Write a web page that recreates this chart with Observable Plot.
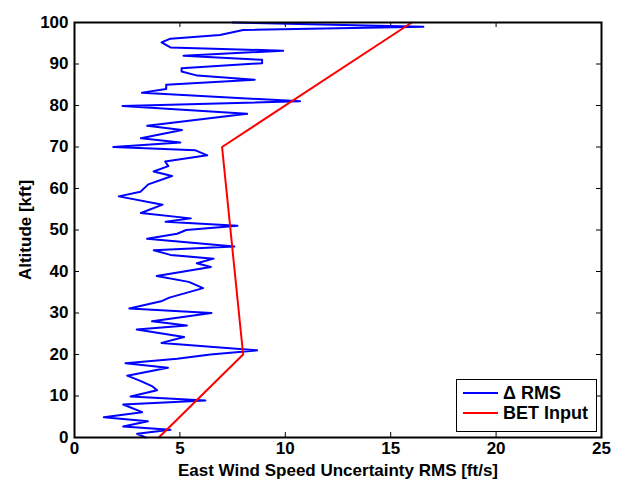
<!DOCTYPE html>
<html>
<head>
<meta charset="utf-8">
<script src="https://cdn.jsdelivr.net/npm/d3@7"></script>
<script src="https://cdn.jsdelivr.net/npm/@observablehq/plot@0.6"></script>
<style>
  html, body { margin: 0; padding: 0; background: #fff; }
  #wrap { position: relative; width: 627px; height: 488px; font-family: "Liberation Sans", Arial, sans-serif; }
  #chart svg text { font-size: 17px !important; font-weight: bold; fill: #000; }
  #legend { position: absolute; left: 456px; top: 379px; width: 141px; height: 53px; border: 1px solid #000; background: #fff; box-sizing: border-box; font-weight: bold; font-size: 18px; }
  #legend .row { position: absolute; left: 6px; display: flex; align-items: center; height: 20px; }
  #legend .sw { width: 35px; height: 2px; margin-right: 5px; }
</style>
</head>
<body>
<div id="wrap">
  <div id="chart"></div>
  <div id="legend"></div>
</div>
<script>
// Altitude [kft] for the ΔRMS profile
const altitude = [0, 0.9, 1.85, 2.65, 3.9, 4.9, 6.1, 7.95, 8.9, 9.9, 11.4, 12.3, 13.6, 14.9, 16.8, 17.9, 19.0, 20.0, 21.0, 22.8,
  24.2, 26.0, 27.0, 28.0, 30.0, 31.1, 32.9, 33.7, 36.0, 37.5, 38.9, 41.1, 42.0, 43.1, 44.0, 45.1, 46.0, 47.9, 49.1, 50.0,
  51.0, 52.0, 52.8, 54.1, 56.1, 58.1, 59.2, 61.0, 63.0, 64.1, 65.4, 66.5, 68.0, 69.2, 70.0, 71.1, 72.1, 74.1, 75.1, 78.0,
  79.9, 81.0, 83.1, 84.0, 85.0, 86.2, 87.2, 88.2, 89.0, 90.2, 91.0, 92.0, 93.2, 94.0, 95.2, 96.1, 97.0, 98.2, 99.0, 100];
// ΔRMS east wind speed uncertainty [ft/s]
const deltaRms = [3.37, 2.97, 4.55, 2.31, 3.48, 1.39, 3.21, 2.31, 6.21, 2.66, 3.92, 3.7, 3.15, 2.5, 4.43, 2.42, 4.87, 6.45, 8.66, 4.13,
  5.2, 2.95, 5.33, 3.68, 6.5, 2.6, 4.16, 4.5, 6.1, 5.42, 3.9, 6.47, 5.8, 6.6, 4.55, 3.76, 7.58, 3.44, 4.87, 5.3,
  7.73, 4.32, 5.52, 3.15, 4.18, 2.1, 3.13, 3.5, 4.63, 3.75, 4.45, 4.3, 6.3, 5.74, 1.84, 5.02, 3.15, 5.1, 3.45, 8.19,
  2.28, 10.7, 3.2, 4.35, 4.35, 8.55, 5.83, 5.08, 5.08, 8.9, 8.9, 5.17, 9.9, 4.55, 4.13, 4.55, 6.9, 8.0, 16.55, 7.5];
// BET input profile
const betAltitude = [0, 20, 70, 100];
const betInput = [4, 8, 7, 16];

const xTicks = [0, 5, 10, 15, 20, 25];
const yTicks = [0, 10, 20, 30, 40, 50, 60, 70, 80, 90, 100];
const seriesNames = ["\u0394 RMS", "BET Input"];
const seriesColors = ["#0000ff", "#ff0000"];

const rmsData = altitude.map((a, i) => ({alt: a, v: deltaRms[i]}));
const betData = betAltitude.map((a, i) => ({alt: a, v: betInput[i]}));

const xMax = 25, yMax = 100;
const tickLenX = 5 / ((627 - 74 - 26) / xMax); // 5px in x data units
const tickLenY = 5 / ((488 - 22 - 51) / yMax); // 5px in y data units

const chart = Plot.plot({
  width: 627,
  height: 488,
  marginLeft: 74,
  marginRight: 26,
  marginTop: 22,
  marginBottom: 51,
  style: {fontFamily: "Liberation Sans, Arial, sans-serif", fontWeight: "bold", fontSize: "17px", background: "#fff", color: "#000"},
  x: {domain: [0, xMax], ticks: xTicks},
  y: {domain: [0, yMax], ticks: yTicks},
  marks: [
    Plot.axisX(xTicks, {tickSize: 0, tickPadding: 4, label: "East Wind Speed Uncertainty RMS [ft/s]", labelAnchor: "center", labelArrow: "none", labelOffset: 38}),
    Plot.axisY(yTicks, {tickSize: 0, tickPadding: 6, label: "Altitude [kft]", labelAnchor: "center", labelArrow: "none", labelOffset: 56}),
    Plot.ruleX(xTicks, {x: d => d, y1: 0, y2: tickLenY, stroke: "#000", strokeWidth: 1}),
    Plot.ruleX(xTicks, {x: d => d, y1: yMax - tickLenY, y2: yMax, stroke: "#000", strokeWidth: 1}),
    Plot.ruleY(yTicks, {y: d => d, x1: 0, x2: tickLenX, stroke: "#000", strokeWidth: 1}),
    Plot.ruleY(yTicks, {y: d => d, x1: xMax - tickLenX, x2: xMax, stroke: "#000", strokeWidth: 1}),
    Plot.line(rmsData, {x: "v", y: "alt", stroke: seriesColors[0], strokeWidth: 2}),
    Plot.line(betData, {x: "v", y: "alt", stroke: seriesColors[1], strokeWidth: 2}),
    Plot.frame({stroke: "#000", strokeWidth: 2})
  ]
});
document.getElementById("chart").appendChild(chart);

const legend = document.getElementById("legend");
seriesNames.forEach((name, i) => {
  const row = document.createElement("div");
  row.className = "row";
  row.style.top = (3 + i * 20) + "px";
  const sw = document.createElement("div");
  sw.className = "sw";
  sw.style.background = seriesColors[i];
  const t = document.createElement("span");
  t.textContent = name;
  row.appendChild(sw);
  row.appendChild(t);
  legend.appendChild(row);
});
</script>
</body>
</html>
